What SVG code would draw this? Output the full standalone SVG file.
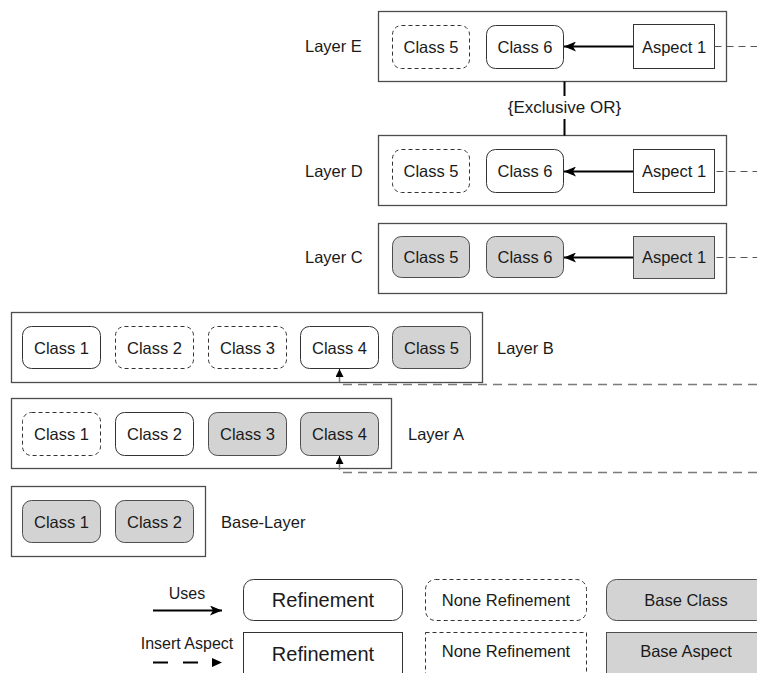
<svg xmlns="http://www.w3.org/2000/svg" width="757" height="673" viewBox="0 0 757 673">
  <defs>
    <style>
      text { font-family: "Liberation Sans", Arial, sans-serif; fill: #1a1a1a; }
      .lbl { font-size: 16.5px; }
      .cls { font-size: 16.5px; text-anchor: middle; }
      .layer { fill: #ffffff; stroke: #4d4d4d; stroke-width: 1.3; }
      .ref { fill: #ffffff; stroke: #333333; stroke-width: 1; }
      .none { fill: #ffffff; stroke: #333333; stroke-width: 1; stroke-dasharray: 4 3; }
      .base { fill: #d3d3d3; stroke: #4d4d4d; stroke-width: 1; }
      .uses { fill: none; stroke: #000000; stroke-width: 2; }
      .insert { fill: none; stroke: #7a7a7a; stroke-width: 1.5; stroke-dasharray: 9 6; }
      .tail { fill: none; stroke: #555555; stroke-width: 1.2; stroke-dasharray: 7 5; }
      .xor { fill: none; stroke: #000000; stroke-width: 2; }
    </style>
    <marker id="head" viewBox="0 0 12 10" refX="12" refY="5" markerWidth="12" markerHeight="10" orient="auto" markerUnits="userSpaceOnUse">
      <path d="M0,0 L12,5 L0,10 L3,5 z" fill="#000000"/>
    </marker>
    <marker id="small" viewBox="0 0 8 8" refX="8" refY="4" markerWidth="8" markerHeight="8" orient="auto" markerUnits="userSpaceOnUse">
      <path d="M0,0 L8,4 L0,8 z" fill="#000000"/>
    </marker>
  </defs>

  <!-- Layer E -->
  <g id="layer-e">
    <rect class="layer" x="378.5" y="11.5" width="348" height="70"/>
    <text class="lbl" x="305" y="52">Layer E</text>
    <g id="e-class5"><rect class="none" x="392.5" y="25.5" width="77" height="43" rx="9"/><text class="cls" x="431" y="52.5">Class 5</text></g>
    <g id="e-class6"><rect class="ref" x="486.5" y="25.5" width="77" height="43" rx="9"/><text class="cls" x="525" y="52.5">Class 6</text></g>
    <g id="e-aspect1"><rect class="ref" x="633.5" y="24.5" width="81" height="44"/><text class="cls" x="674" y="52.5">Aspect 1</text></g>
  </g>

  <!-- Layer D -->
  <g id="layer-d">
    <rect class="layer" x="378.5" y="135.5" width="348" height="70"/>
    <text class="lbl" x="305" y="177">Layer D</text>
    <g id="d-class5"><rect class="none" x="392.5" y="149.5" width="77" height="43" rx="9"/><text class="cls" x="431" y="177">Class 5</text></g>
    <g id="d-class6"><rect class="ref" x="486.5" y="149.5" width="77" height="43" rx="9"/><text class="cls" x="525" y="177">Class 6</text></g>
    <g id="d-aspect1"><rect class="ref" x="633.5" y="149.5" width="81" height="43"/><text class="cls" x="674" y="177">Aspect 1</text></g>
  </g>

  <!-- Layer C -->
  <g id="layer-c">
    <rect class="layer" x="378.5" y="223.5" width="348" height="70"/>
    <text class="lbl" x="305" y="263">Layer C</text>
    <g id="c-class5"><rect class="base" x="392.5" y="236.5" width="77" height="41" rx="9"/><text class="cls" x="431" y="263">Class 5</text></g>
    <g id="c-class6"><rect class="base" x="486.5" y="236.5" width="77" height="41" rx="9"/><text class="cls" x="525" y="263">Class 6</text></g>
    <g id="c-aspect1"><rect class="base" x="633.5" y="236.5" width="81" height="42"/><text class="cls" x="674" y="263">Aspect 1</text></g>
  </g>

  <!-- Layer B -->
  <g id="layer-b">
    <rect class="layer" x="11.5" y="312.5" width="471" height="70"/>
    <text class="lbl" x="497" y="353.5">Layer B</text>
    <g id="b-class1"><rect class="ref" x="22.5" y="326.5" width="78" height="42" rx="9"/><text class="cls" x="61.5" y="353.5">Class 1</text></g>
    <g id="b-class2"><rect class="none" x="115.5" y="326.5" width="78" height="42" rx="9"/><text class="cls" x="154.5" y="353.5">Class 2</text></g>
    <g id="b-class3"><rect class="none" x="208.5" y="326.5" width="78" height="42" rx="9"/><text class="cls" x="247.5" y="353.5">Class 3</text></g>
    <g id="b-class4"><rect class="ref" x="300.5" y="326.5" width="78" height="42" rx="9"/><text class="cls" x="339.5" y="353.5">Class 4</text></g>
    <g id="b-class5"><rect class="base" x="392.5" y="326.5" width="78" height="42" rx="9"/><text class="cls" x="431.5" y="353.5">Class 5</text></g>
  </g>

  <!-- Layer A -->
  <g id="layer-a">
    <rect class="layer" x="11.5" y="398.5" width="380" height="70"/>
    <text class="lbl" x="408" y="440">Layer A</text>
    <g id="a-class1"><rect class="none" x="22.5" y="412.5" width="78" height="43" rx="9"/><text class="cls" x="61.5" y="440">Class 1</text></g>
    <g id="a-class2"><rect class="ref" x="115.5" y="412.5" width="78" height="43" rx="9"/><text class="cls" x="154.5" y="440">Class 2</text></g>
    <g id="a-class3"><rect class="base" x="208.5" y="412.5" width="78" height="43" rx="9"/><text class="cls" x="247.5" y="440">Class 3</text></g>
    <g id="a-class4"><rect class="base" x="300.5" y="412.5" width="78" height="43" rx="9"/><text class="cls" x="339.5" y="440">Class 4</text></g>
  </g>

  <!-- Base layer -->
  <g id="base-layer">
    <rect class="layer" x="11.5" y="486.5" width="194" height="70"/>
    <text class="lbl" x="221" y="527.5">Base-Layer</text>
    <g id="base-class1"><rect class="base" x="22.5" y="500.5" width="78" height="42" rx="9"/><text class="cls" x="61.5" y="527.5">Class 1</text></g>
    <g id="base-class2"><rect class="base" x="115.5" y="500.5" width="78" height="42" rx="9"/><text class="cls" x="154.5" y="527.5">Class 2</text></g>
  </g>

  <!-- Connectors -->
  <g id="connectors">
    <path class="uses" d="M633,46.5 H564" marker-end="url(#head)"/>
    <path class="uses" d="M633,171.5 H564" marker-end="url(#head)"/>
    <path class="uses" d="M633,257.5 H564" marker-end="url(#head)"/>
    <path class="tail" d="M714.5,46.5 H757"/>
    <path class="tail" d="M714.5,171.5 H757" stroke-dashoffset="10"/>
    <path class="tail" d="M714.5,257.5 H757" stroke-dashoffset="10"/>
    <path class="xor" d="M564.5,81.5 V96"/>
    <path class="xor" d="M564.5,119 V135.5"/>
    <text x="564.5" y="113" style="font-size:17px;text-anchor:middle">{Exclusive OR}</text>
    <path class="insert" d="M757,384.5 H339.5 V377"/>
    <path d="M339.5,377 V369" stroke="#000" stroke-width="1" marker-end="url(#small)"/>
    <path class="insert" d="M757,472.5 H339.5 V464"/>
    <path d="M339.5,464 V456" stroke="#000" stroke-width="1" marker-end="url(#small)"/>
  </g>

  <!-- Legend -->
  <g id="legend">
    <g id="legend-uses">
      <text x="187" y="599" style="font-size:16px;text-anchor:middle">Uses</text>
      <path d="M153,610.5 H222" stroke="#000" stroke-width="2" marker-end="url(#head)"/>
    </g>
    <g id="legend-insert">
      <text x="187" y="649" style="font-size:16px;text-anchor:middle">Insert Aspect</text>
      <path d="M153,662.5 H210" stroke="#000" stroke-width="2" stroke-dasharray="15 15"/>
      <path d="M212,658 L222,662.5 L212,667 z" fill="#000"/>
    </g>
    <g id="legend-refinement-class"><rect class="ref" x="243.5" y="579.5" width="159" height="41" rx="10"/><text x="323" y="607" style="font-size:20px;text-anchor:middle">Refinement</text></g>
    <g id="legend-none-class"><rect class="none" x="425.5" y="579.5" width="161" height="41" rx="10"/><text x="506" y="606" style="font-size:16.5px;text-anchor:middle">None Refinement</text></g>
    <g id="legend-base-class"><rect class="base" x="606.5" y="579.5" width="160" height="41" rx="10"/><text x="686" y="606" style="font-size:16.5px;text-anchor:middle">Base Class</text></g>
    <g id="legend-refinement-aspect"><rect class="ref" x="243.5" y="632.5" width="159" height="50"/><text x="323" y="661" style="font-size:20px;text-anchor:middle">Refinement</text></g>
    <g id="legend-none-aspect"><rect class="none" x="425.5" y="632.5" width="161" height="50"/><text x="506" y="657" style="font-size:16.5px;text-anchor:middle">None Refinement</text></g>
    <g id="legend-base-aspect"><rect class="base" x="606.5" y="632.5" width="160" height="50"/><text x="686" y="657" style="font-size:16.5px;text-anchor:middle">Base Aspect</text></g>
  </g>
</svg>
